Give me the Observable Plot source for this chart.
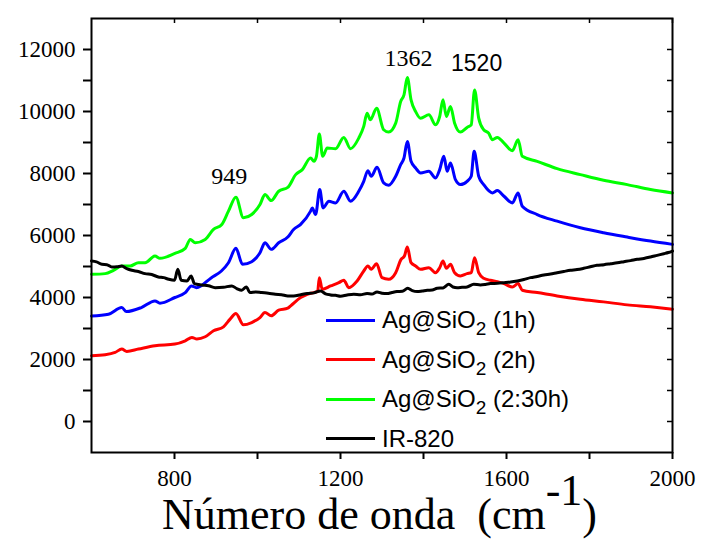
<!DOCTYPE html>
<html><head><meta charset="utf-8">
<script src="https://cdn.jsdelivr.net/npm/d3@7"></script>
<script src="https://cdn.jsdelivr.net/npm/@observablehq/plot@0.6"></script>
<style>
body{margin:0;background:#fff;}
#wrap{position:relative;width:702px;height:539px;overflow:hidden;}
#chart svg text{font-family:"Liberation Serif","Times New Roman",serif !important;}
#legend{position:absolute;left:0;top:0;font-family:"Liberation Sans",Arial,sans-serif;font-size:24px;line-height:24px;color:#000;}
.sw{position:absolute;width:49px;height:3px;}
.lt{position:absolute;white-space:nowrap;}
.lt .sb{position:relative;top:7px;font-size:19px;}
#xlabel{position:absolute;font-family:"Liberation Serif","Times New Roman",serif;font-size:44px;line-height:44px;white-space:nowrap;color:#000;}
#xlabel .sp{position:relative;top:-24px;}
</style></head>
<body><div id="wrap"><div id="chart"></div><div id="legend"></div><div id="xlabel"></div></div>
<script>
// ---- data (wavenumber cm^-1, intensity) ----
const ag1h = [[600,3400],[641,3460],[673,3675],[684,3547],[720,3675],[753,3890],[765,3816],[801,4000],[826,4158],[841,4373],[853,4318],[889,4640],[913,4855],[930,5122],[948,5585],[964,5070],[986,5155],[1006,5444],[1018,5765],[1033,5553],[1051,5765],[1073,5949],[1087,6195],[1104,6357],[1128,6785],[1132,6890],[1140,6678],[1150,7482],[1158,6890],[1172,7106],[1188,7052],[1208,7428],[1224,7106],[1244,7428],[1256,7749],[1266,8092],[1274,7910],[1288,8199],[1304,7695],[1316,7620],[1333,7910],[1345,8285],[1353,8499],[1361,9035],[1370,8392],[1381,8178],[1393,8017],[1413,8070],[1429,7856],[1439,8125],[1449,8553],[1457,8070],[1465,8338],[1477,7802],[1489,7642],[1505,7749],[1515,7910],[1522,8714],[1533,7910],[1545,7642],[1566,7374],[1578,7449],[1594,7267],[1614,7052],[1628,7374],[1638,6945],[1674,6677],[1722,6463],[1778,6249],[1834,6088],[1891,5949],[1947,5820],[2000,5714]];
const ag2h = [[600,2122],[633,2154],[657,2229],[673,2337],[685,2261],[713,2337],[753,2443],[801,2497],[826,2604],[842,2711],[854,2659],[874,2733],[894,2926],[918,3055],[934,3302],[948,3483],[966,3119],[986,3193],[1006,3354],[1018,3515],[1033,3408],[1051,3591],[1073,3655],[1080,3730],[1104,3997],[1120,4104],[1136,4158],[1145,4200],[1149,4640],[1156,4265],[1176,4373],[1196,4479],[1208,4556],[1220,4318],[1240,4534],[1256,4855],[1266,5016],[1274,4909],[1287,5090],[1300,4640],[1316,4588],[1333,4801],[1346,5231],[1354,5338],[1361,5627],[1370,5122],[1381,5016],[1393,4909],[1413,4962],[1429,4801],[1439,4962],[1447,5177],[1455,4941],[1465,5070],[1475,4801],[1489,4695],[1505,4769],[1515,4801],[1523,5283],[1533,4801],[1545,4620],[1561,4556],[1578,4512],[1594,4448],[1614,4341],[1628,4448],[1638,4234],[1674,4158],[1722,4051],[1778,3945],[1834,3859],[1891,3762],[1947,3698],[2000,3624]];
const ag230h = [[600,4749],[633,4770],[653,4877],[673,5016],[693,5016],[713,5122],[729,5122],[753,5338],[765,5263],[801,5420],[826,5585],[838,5874],[850,5765],[874,5874],[894,6195],[914,6357],[930,6785],[948,7235],[966,6570],[986,6677],[1006,6999],[1018,7320],[1033,7127],[1051,7428],[1073,7550],[1092,7964],[1108,8125],[1128,8499],[1136,8392],[1142,8553],[1149,9271],[1157,8553],[1168,8821],[1188,8800],[1208,9164],[1224,8800],[1244,9142],[1256,9518],[1264,9946],[1272,9732],[1287,10106],[1304,9411],[1316,9335],[1333,9624],[1345,10322],[1353,10537],[1361,11093],[1370,10376],[1381,10000],[1393,9785],[1413,9893],[1429,9571],[1439,9839],[1447,10376],[1455,9839],[1465,10161],[1475,9624],[1489,9335],[1505,9485],[1515,9571],[1523,10697],[1533,9785],[1545,9411],[1557,9302],[1566,9089],[1578,9164],[1594,8982],[1614,8735],[1628,9089],[1638,8553],[1674,8392],[1722,8157],[1778,7964],[1834,7781],[1891,7642],[1947,7482],[2000,7374]];
const ir820 = [[600,5177],[612,5150],[625,5070],[637,5060],[649,4984],[661,4990],[673,5016],[685,4930],[697,4877],[713,4840],[729,4769],[745,4740],[761,4662],[774,4640],[786,4588],[800,4556],[808,4909],[816,4556],[830,4534],[840,4695],[848,4448],[866,4405],[882,4380],[898,4318],[918,4330],[938,4373],[950,4290],[962,4234],[973,4341],[982,4158],[996,4180],[1010,4158],[1026,4140],[1043,4104],[1058,4090],[1073,4051],[1087,4051],[1104,4090],[1120,4126],[1136,4150],[1152,4212],[1164,4120],[1176,4084],[1188,4070],[1200,4041],[1216,4080],[1232,4104],[1248,4090],[1264,4126],[1276,4110],[1288,4180],[1300,4140],[1312,4126],[1324,4160],[1336,4190],[1349,4200],[1362,4298],[1373,4220],[1385,4190],[1397,4210],[1409,4234],[1421,4240],[1433,4298],[1447,4310],[1461,4427],[1471,4340],[1481,4318],[1493,4330],[1505,4341],[1521,4427],[1537,4405],[1549,4420],[1561,4448],[1578,4460],[1594,4479],[1610,4500],[1626,4534],[1642,4580],[1658,4640],[1674,4680],[1690,4727],[1706,4760],[1722,4801],[1738,4840],[1754,4877],[1770,4900],[1786,4941],[1802,4990],[1818,5038],[1835,5060],[1851,5090],[1867,5120],[1883,5155],[1899,5190],[1915,5231],[1931,5260],[1947,5306],[1963,5360],[1979,5412],[1990,5450],[2000,5498]];

const seriesNames = ["Ag@SiO2 (1h)", "Ag@SiO2 (2h)", "Ag@SiO2 (2:30h)", "IR-820"];
const seriesColors = ["#0000ff", "#ff0000", "#00ff00", "#000000"];
const seriesData = [ag1h, ag2h, ag230h, ir820];

const xMajorTicks = [800, 1200, 1600, 2000];
const xMinorTicks = [1000, 1400, 1800];
const yMajorTicks = [0, 2000, 4000, 6000, 8000, 10000, 12000];
const yMinorTicks = [1000, 3000, 5000, 7000, 9000, 11000];

const serifLabels = [{x: 932, y: 7900, text: "949"}, {x: 1364, y: 11700, text: "1362"}];
const sansLabels = [{x: 1528, y: 11540, text: "1520"}];

const serif = "Liberation Serif, Times New Roman, serif";
const sans = "Liberation Sans, Arial, sans-serif";
const fmt = d => String(d);

const W = 702, H = 539, ML = 91, MR = 30, MT = 18, MB = 87;
const innerTick = 5;

const chart = Plot.plot({
  width: W, height: H,
  marginLeft: ML, marginRight: MR, marginTop: MT, marginBottom: MB,
  style: {background: "#fff", color: "#000", fontFamily: serif},
  x: {domain: [600, 2000]},
  y: {domain: [-1000, 13000]},
  marks: [
    Plot.axisX(xMajorTicks, {anchor: "bottom", tickSize: 7, tickPadding: 10, strokeWidth: 2, fontSize: 23, fontFamily: serif, tickFormat: fmt, label: null}),
    Plot.axisX(xMinorTicks, {anchor: "bottom", tickSize: 7, strokeWidth: 2, tickFormat: () => "", label: null}),
    Plot.axisY(yMajorTicks, {anchor: "left", tickSize: 8, tickPadding: 8, strokeWidth: 2, fontSize: 23, fontFamily: serif, tickFormat: fmt, label: null}),
    Plot.axisY(yMinorTicks, {anchor: "left", tickSize: 8, strokeWidth: 2, tickFormat: () => "", label: null}),
    // inward ticks on the top and right edges
    Plot.tickX([...xMajorTicks, ...xMinorTicks], {x: d => d, insetBottom: H - MT - MB - innerTick, stroke: "#000", strokeWidth: 1.5}),
    Plot.tickY([...yMajorTicks, ...yMinorTicks], {y: d => d, insetLeft: W - ML - MR - innerTick, stroke: "#000", strokeWidth: 1.5}),
    ...seriesData.map((d, i) => Plot.line(d, {x: v => v[0], y: v => v[1], stroke: seriesColors[i], strokeWidth: 3, curve: "monotone-x", strokeLinejoin: "round", strokeLinecap: "round"})),
    Plot.text(serifLabels, {x: "x", y: "y", text: "text", fontSize: 24, fontFamily: serif, textAnchor: "middle", lineAnchor: "middle", fill: "#000"}),
    Plot.text(sansLabels, {x: "x", y: "y", text: "text", fontSize: 23, fontFamily: sans, textAnchor: "middle", lineAnchor: "middle", fill: "#000"}),
    Plot.frame({stroke: "#000", strokeWidth: 2})
  ]
});
document.getElementById("chart").appendChild(chart);
// the "1520" annotation is set in a sans-serif face in the reference
d3.select(chart).selectAll("text").filter(function() { return sansLabels.some(l => l.text === this.textContent); })
  .each(function() { this.style.setProperty("font-family", '"Liberation Sans", Arial, sans-serif', "important"); });

// legend (HTML overlay)
const legendRowsY = [320, 359.5, 399, 438.5];
const leg = document.getElementById("legend");
seriesNames.forEach((name, i) => {
  const sw = document.createElement("div");
  sw.className = "sw";
  sw.style.left = "326px";
  sw.style.top = (legendRowsY[i] - 1.5) + "px";
  sw.style.background = seriesColors[i];
  leg.appendChild(sw);
  const t = document.createElement("div");
  t.className = "lt";
  t.style.left = "382px";
  t.style.top = (legendRowsY[i] - 12) + "px";
  const m = name.match(/^(Ag@SiO)2(.*)$/);
  if (m) {
    t.append(m[1]);
    const s = document.createElement("span"); s.className = "sb"; s.textContent = "2"; t.appendChild(s);
    t.append(m[2].replace(" ", "\u00a0"));
  } else t.textContent = name;
  leg.appendChild(t);
});

// x axis title
const xl = document.getElementById("xlabel");
xl.style.left = "162px";
xl.style.top = "493px";
xl.innerHTML = "Número de onda\u00a0\u00a0(cm<span class='sp'>-1</span>)";
</script>
</body></html>
